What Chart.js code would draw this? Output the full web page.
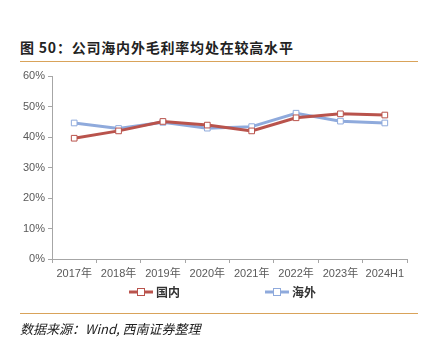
<!DOCTYPE html>
<html>
<head>
<meta charset="utf-8">
<script src="https://cdn.jsdelivr.net/npm/chart.js@4.4.1/dist/chart.umd.min.js"></script>
<style>
  html, body { margin: 0; padding: 0; background: #fff; }
  #wrap { position: relative; width: 429px; height: 351px; overflow: hidden; }
  #title { position: absolute; left: 20px; top: 37px; font: bold 14px "Noto Sans CJK SC", sans-serif; color: #222; letter-spacing: 0.8px; }
  .rule { position: absolute; left: 20px; width: 398px; height: 1px; background: #D9A35A; }
  #src { position: absolute; left: 20px; top: 319px; font: italic 13px "Noto Sans CJK SC", "Liberation Sans", sans-serif; color: #222; }
  canvas { position: absolute; left: 0; top: 0; }
</style>
</head>
<body>
<div id="wrap">
  <div id="title">图 50：公司海内外毛利率均处在较高水平</div>
  <div class="rule" style="top:61px"></div>
  <canvas id="chart" width="429" height="351"></canvas>
  <div class="rule" style="top:313px"></div>
  <div id="src">数据来源：Wind, 西南证券整理</div>
</div>
<script>
const categories = ['2017年', '2018年', '2019年', '2020年', '2021年', '2022年', '2023年', '2024H1'];
const domestic = [39.6, 42.0, 45.1, 43.9, 42.0, 46.3, 47.6, 47.2];
const overseas = [44.6, 42.8, 44.8, 42.9, 43.4, 47.8, 45.2, 44.6];
const yTicks = [0, 10, 20, 30, 40, 50, 60];

const red = '#B9534C';
const blue = '#8FAADC';
const axisGray = '#A6A6A6';

const legendPlugin = {
  id: 'lineLegend',
  afterDraw(chart) {
    const ctx = chart.ctx;
    const items = [{ x: 129, ds: chart.data.datasets[0] }, { x: 265, ds: chart.data.datasets[1] }];
    const y = 292;
    items.forEach(it => {
      ctx.save();
      ctx.strokeStyle = it.ds.borderColor;
      ctx.lineWidth = 3;
      ctx.beginPath();
      ctx.moveTo(it.x, y);
      ctx.lineTo(it.x + 24, y);
      ctx.stroke();
      ctx.fillStyle = '#fff';
      ctx.lineWidth = 1;
      ctx.fillRect(it.x + 8.5, y - 3.5, 7, 7);
      ctx.strokeRect(it.x + 8.5, y - 3.5, 7, 7);
      ctx.fillStyle = '#333';
      ctx.font = 'bold 12px "Noto Sans CJK SC", sans-serif';
      ctx.textBaseline = 'middle';
      ctx.fillText(it.ds.label, it.x + 27, y);
      ctx.restore();
    });
  }
};

new Chart(document.getElementById('chart'), {
  type: 'line',
  data: {
    labels: categories,
    datasets: [
      {
        label: '国内',
        data: domestic,
        borderColor: red,
        borderWidth: 3,
        pointStyle: 'rect',
        pointRadius: 4,
        pointBorderWidth: 1,
        pointBackgroundColor: '#fff',
        pointBorderColor: red,
        tension: 0
      },
      {
        label: '海外',
        data: overseas,
        borderColor: blue,
        borderWidth: 3,
        pointStyle: 'rect',
        pointRadius: 4,
        pointBorderWidth: 1,
        pointBackgroundColor: '#fff',
        pointBorderColor: blue,
        tension: 0
      }
    ]
  },
  options: {
    responsive: false,
    animation: false,
    layout: { padding: { left: 0, right: 22, top: 76, bottom: 0 } },
    plugins: { legend: { display: false }, tooltip: { enabled: false } },
    scales: {
      x: {
        offset: true,
        grid: { offset: true, display: true, drawOnChartArea: false, drawTicks: true, tickLength: 4, color: axisGray },
        border: { color: axisGray, width: 1 },
        ticks: { color: '#595959', font: { size: 11, family: '"Liberation Sans", "Noto Sans CJK SC", sans-serif' }, padding: 4, maxRotation: 0, autoSkip: false },
        afterFit(scale) { scale.height = 92; }
      },
      y: {
        min: 0,
        max: 60,
        afterBuildTicks(scale) { scale.ticks = yTicks.map(v => ({ value: v })); },
        grid: { display: true, drawOnChartArea: false, drawTicks: true, tickLength: 4, color: axisGray },
        border: { color: axisGray, width: 1 },
        ticks: { color: '#595959', font: { size: 11, family: '"Liberation Sans", sans-serif' }, padding: 3, callback: v => v + '%' },
        afterFit(scale) { scale.width = 52; }
      }
    }
  },
  plugins: [legendPlugin]
});
</script>
</body>
</html>
